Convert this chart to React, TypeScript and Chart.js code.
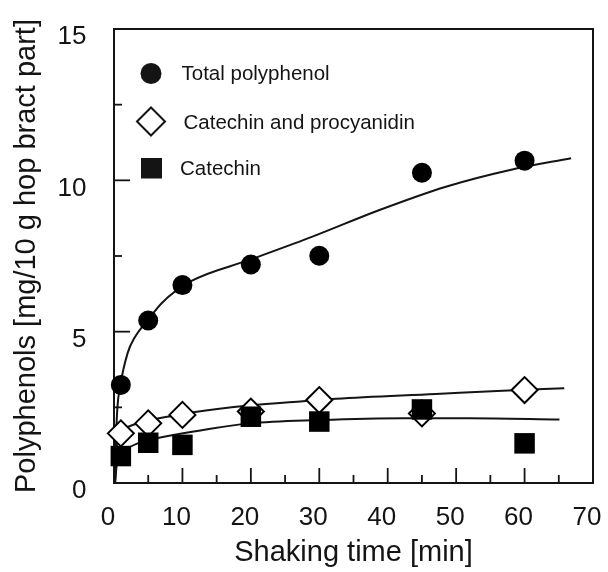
import React, { useEffect, useRef } from 'react';
import { Chart, registerables } from 'chart.js';

Chart.register(...registerables);

// ---------- data ----------
const seriesNames = ['Total polyphenol', 'Catechin and procyanidin', 'Catechin'];

const sampleTimes = [1, 5, 10, 20, 30, 45, 60];
const totalPolyphenol = [3.24, 5.37, 6.54, 7.22, 7.51, 10.25, 10.65];
const catechinProcyanidin = [1.64, 1.97, 2.25, 2.36, 2.74, 2.3, 3.07];
const catechin = [0.89, 1.33, 1.26, 2.19, 2.03, 2.43, 1.31];

// fitted curves
const totalFitTime = [0.15, 0.3, 0.5, 0.9, 2, 3, 5, 7, 11.1, 19.8, 29, 38.8, 48.5, 58.2, 66.8];
const totalFitValue = [0, 1.5, 2.5, 3.2, 4.3, 4.8, 5.4, 5.95, 6.65, 7.37, 8.14, 9.02, 9.79, 10.36, 10.73];

const procyFitTime = [0.15, 0.4, 0.8, 2, 4, 8, 11.6, 19.8, 27.6, 32.5, 47, 56.8, 65.8];
const procyFitValue = [0, 1.2, 1.64, 1.85, 2.0, 2.2, 2.34, 2.56, 2.7, 2.78, 2.94, 3.05, 3.13];

const catechinFitTime = [0.15, 0.4, 0.9, 2, 4, 6.2, 13, 19.8, 30, 42.2, 51.9, 65.1];
const catechinFitValue = [0, 0.6, 0.95, 1.15, 1.35, 1.48, 1.75, 1.97, 2.08, 2.14, 2.14, 2.1];

const xTickValues = [0, 10, 20, 30, 40, 50, 60, 70];
const yTickValues = [0, 5, 10, 15];

const xAxisTitle = 'Shaking time [min]';
const yAxisTitle = 'Polyphenols [mg/10 g hop bract part]';

// ---------- helpers ----------
const FONT = '"Liberation Sans", Arial, Helvetica, sans-serif';
const INK = '#141414';

const pts = (xs: number[], ys: number[]) => xs.map((x, i) => ({ x, y: ys[i] }));

const decorPlugin = {
  id: 'decor',
  beforeDatasetsDraw(chart: any) {
    const { ctx, chartArea: a, scales } = chart;
    const xs = scales.x;
    const ys = scales.y;
    ctx.save();
    ctx.strokeStyle = INK;
    ctx.lineWidth = 2;
    ctx.strokeRect(a.left, a.top, a.right - a.left, a.bottom - a.top);

    ctx.lineWidth = 1.8;
    const xv = xs.ticks.map((t: any) => t.value);
    for (let i = 0; i < xv.length; i++) {
      const v = xv[i];
      if (v > xs.min && v < xs.max) {
        const px = xs.getPixelForValue(v);
        ctx.beginPath();
        ctx.moveTo(px, a.bottom);
        ctx.lineTo(px, a.bottom - 15);
        ctx.stroke();
      }
      if (i < xv.length - 1) {
        const m = (v + xv[i + 1]) / 2;
        const px = xs.getPixelForValue(m);
        ctx.beginPath();
        ctx.moveTo(px, a.bottom);
        ctx.lineTo(px, a.bottom - 8);
        ctx.stroke();
      }
    }
    const yv = ys.ticks.map((t: any) => t.value);
    for (let i = 0; i < yv.length; i++) {
      const v = yv[i];
      if (v > ys.min && v < ys.max) {
        const py = ys.getPixelForValue(v);
        ctx.beginPath();
        ctx.moveTo(a.left, py);
        ctx.lineTo(a.left + 16, py);
        ctx.stroke();
      }
      if (i < yv.length - 1) {
        const m = (v + yv[i + 1]) / 2;
        const py = ys.getPixelForValue(m);
        ctx.beginPath();
        ctx.moveTo(a.left, py);
        ctx.lineTo(a.left + 8, py);
        ctx.stroke();
      }
    }
    ctx.restore();
  },
  afterDraw(chart: any) {
    const { ctx } = chart;
    ctx.save();
    ctx.fillStyle = INK;
    ctx.strokeStyle = INK;
    ctx.font = `20.5px ${FONT}`;
    ctx.textBaseline = 'middle';
    ctx.textAlign = 'left';

    // circle
    ctx.beginPath();
    ctx.arc(151, 73.5, 10.5, 0, Math.PI * 2);
    ctx.fill();
    ctx.fillText(seriesNames[0], 181.5, 74.5);

    // diamond
    ctx.beginPath();
    ctx.moveTo(151 - 14, 121.5);
    ctx.lineTo(151, 121.5 - 14);
    ctx.lineTo(151 + 14, 121.5);
    ctx.lineTo(151, 121.5 + 14);
    ctx.closePath();
    ctx.fillStyle = '#fff';
    ctx.fill();
    ctx.lineWidth = 2;
    ctx.stroke();
    ctx.fillStyle = INK;
    ctx.fillText(seriesNames[1], 183.5, 123);

    // square
    ctx.fillRect(141, 158, 21, 20.5);
    ctx.fillText(seriesNames[2], 180, 169);
    ctx.restore();
  },
};

export default function App() {
  const canvasRef = useRef<HTMLCanvasElement | null>(null);

  useEffect(() => {
    if (!canvasRef.current) return;
    const chart = new Chart(canvasRef.current, {
      type: 'scatter',
      data: {
        datasets: [
          {
            label: seriesNames[2],
            data: pts(sampleTimes, catechin),
            pointStyle: 'rect',
            pointRadius: 14.5,
            pointBackgroundColor: '#000',
            pointBorderColor: '#000',
            pointBorderWidth: 0,
            showLine: false,
            clip: false,
            order: 1,
          } as any,
          {
            label: seriesNames[1],
            data: pts(sampleTimes, catechinProcyanidin),
            pointStyle: 'rectRot',
            pointRadius: 13,
            pointBackgroundColor: '#fff',
            pointBorderColor: '#000',
            pointBorderWidth: 2,
            showLine: false,
            clip: false,
            order: 2,
          } as any,
          {
            label: seriesNames[0],
            data: pts(sampleTimes, totalPolyphenol),
            pointStyle: 'circle',
            pointRadius: 10,
            pointBackgroundColor: '#000',
            pointBorderColor: '#000',
            pointBorderWidth: 0,
            showLine: false,
            clip: false,
            order: 3,
          } as any,
          {
            label: 'fit total',
            data: pts(totalFitTime, totalFitValue),
            showLine: true,
            borderColor: INK,
            borderWidth: 2,
            pointRadius: 0,
            cubicInterpolationMode: 'monotone',
            order: 10,
          } as any,
          {
            label: 'fit procy',
            data: pts(procyFitTime, procyFitValue),
            showLine: true,
            borderColor: INK,
            borderWidth: 2,
            pointRadius: 0,
            cubicInterpolationMode: 'monotone',
            order: 10,
          } as any,
          {
            label: 'fit catechin',
            data: pts(catechinFitTime, catechinFitValue),
            showLine: true,
            borderColor: INK,
            borderWidth: 2,
            pointRadius: 0,
            cubicInterpolationMode: 'monotone',
            order: 10,
          } as any,
        ],
      },
      options: {
        responsive: false,
        animation: false,
        devicePixelRatio: 1,
        layout: { padding: { top: 29, right: 13, left: 0, bottom: 0 } },
        plugins: {
          legend: { display: false },
          tooltip: { enabled: false },
        },
        scales: {
          x: {
            type: 'linear',
            min: 0,
            max: 70,
            afterBuildTicks: (s: any) => {
              s.ticks = xTickValues.map((v) => ({ value: v }));
            },
            afterFit: (s: any) => {
              s.height = 89;
              s.paddingLeft = 0;
              s.paddingRight = 0;
            },
            grid: { display: false, drawTicks: false },
            border: { display: false },
            ticks: {
              color: INK,
              font: { family: FONT, size: 26, lineHeight: 1 },
              padding: 22,
              labelOffset: -6,
              maxRotation: 0,
              autoSkip: false,
            },
            title: {
              display: true,
              text: xAxisTitle,
              color: INK,
              font: { family: FONT, size: 29, lineHeight: 1 },
              padding: { top: 0, bottom: 4.5 },
            },
          },
          y: {
            type: 'linear',
            min: 0,
            max: 15,
            afterBuildTicks: (s: any) => {
              s.ticks = yTickValues.map((v) => ({ value: v }));
            },
            afterFit: (s: any) => {
              s.width = 114;
              s.paddingTop = 0;
              s.paddingBottom = 0;
            },
            grid: { display: false, drawTicks: false },
            border: { display: false },
            ticks: {
              color: INK,
              font: { family: FONT, size: 26, lineHeight: 1 },
              padding: 27.5,
              labelOffset: 8,
              autoSkip: false,
            },
            title: {
              display: true,
              text: yAxisTitle,
              color: INK,
              font: { family: FONT, size: 29, lineHeight: 1 },
              padding: { top: 12, bottom: 0 },
            },
          },
        },
      },
      plugins: [decorPlugin],
    });
    return () => chart.destroy();
  }, []);

  return (
    <div style={{ position: 'absolute', left: 0, top: 0, width: 608, height: 572, background: '#fff' }}>
      <canvas ref={canvasRef} width={608} height={572} style={{ width: 608, height: 572 }} />
    </div>
  );
}
